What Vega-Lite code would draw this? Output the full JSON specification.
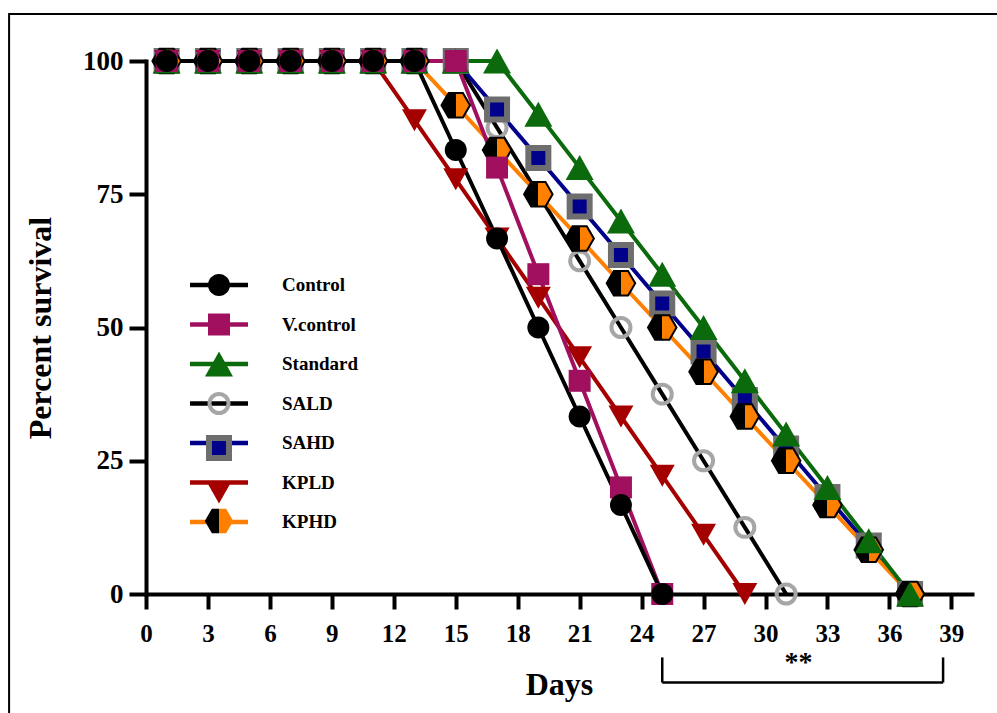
{
"$schema": "https://vega.github.io/schema/vega-lite/v6.json",
"width": 826, "height": 533,
"autosize": {"type": "none"},
"padding": {"left": 146, "top": 61, "right": 25, "bottom": 119},
"background": "white",
"config": {"view": {"stroke": null}, "font": "Liberation Serif"},
"data": {"values": [
{"series":"SALD","day":1,"survival":100},{"series":"SALD","day":3,"survival":100},{"series":"SALD","day":5,"survival":100},{"series":"SALD","day":7,"survival":100},{"series":"SALD","day":9,"survival":100},{"series":"SALD","day":11,"survival":100},{"series":"SALD","day":13,"survival":100},{"series":"SALD","day":15,"survival":100},{"series":"SALD","day":17,"survival":87.5},{"series":"SALD","day":19,"survival":75},{"series":"SALD","day":21,"survival":62.5},{"series":"SALD","day":23,"survival":50},{"series":"SALD","day":25,"survival":37.5},{"series":"SALD","day":27,"survival":25},{"series":"SALD","day":29,"survival":12.5},{"series":"SALD","day":31,"survival":0},
{"series":"SAHD","day":1,"survival":100},{"series":"SAHD","day":3,"survival":100},{"series":"SAHD","day":5,"survival":100},{"series":"SAHD","day":7,"survival":100},{"series":"SAHD","day":9,"survival":100},{"series":"SAHD","day":11,"survival":100},{"series":"SAHD","day":13,"survival":100},{"series":"SAHD","day":15,"survival":100},{"series":"SAHD","day":17,"survival":90.9},{"series":"SAHD","day":19,"survival":81.8},{"series":"SAHD","day":21,"survival":72.7},{"series":"SAHD","day":23,"survival":63.6},{"series":"SAHD","day":25,"survival":54.5},{"series":"SAHD","day":27,"survival":45.5},{"series":"SAHD","day":29,"survival":36.4},{"series":"SAHD","day":31,"survival":27.3},{"series":"SAHD","day":33,"survival":18.2},{"series":"SAHD","day":35,"survival":9.1},{"series":"SAHD","day":37,"survival":0},
{"series":"KPLD","day":1,"survival":100},{"series":"KPLD","day":3,"survival":100},{"series":"KPLD","day":5,"survival":100},{"series":"KPLD","day":7,"survival":100},{"series":"KPLD","day":9,"survival":100},{"series":"KPLD","day":11,"survival":100},{"series":"KPLD","day":13,"survival":88.9},{"series":"KPLD","day":15,"survival":77.8},{"series":"KPLD","day":17,"survival":66.7},{"series":"KPLD","day":19,"survival":55.6},{"series":"KPLD","day":21,"survival":44.4},{"series":"KPLD","day":23,"survival":33.3},{"series":"KPLD","day":25,"survival":22.2},{"series":"KPLD","day":27,"survival":11.1},{"series":"KPLD","day":29,"survival":0},
{"series":"KPHD","day":1,"survival":100},{"series":"KPHD","day":3,"survival":100},{"series":"KPHD","day":5,"survival":100},{"series":"KPHD","day":7,"survival":100},{"series":"KPHD","day":9,"survival":100},{"series":"KPHD","day":11,"survival":100},{"series":"KPHD","day":13,"survival":100},{"series":"KPHD","day":15,"survival":91.7},{"series":"KPHD","day":17,"survival":83.3},{"series":"KPHD","day":19,"survival":75},{"series":"KPHD","day":21,"survival":66.7},{"series":"KPHD","day":23,"survival":58.3},{"series":"KPHD","day":25,"survival":50},{"series":"KPHD","day":27,"survival":41.7},{"series":"KPHD","day":29,"survival":33.3},{"series":"KPHD","day":31,"survival":25},{"series":"KPHD","day":33,"survival":16.7},{"series":"KPHD","day":35,"survival":8.3},{"series":"KPHD","day":37,"survival":0},
{"series":"Standard","day":1,"survival":100},{"series":"Standard","day":3,"survival":100},{"series":"Standard","day":5,"survival":100},{"series":"Standard","day":7,"survival":100},{"series":"Standard","day":9,"survival":100},{"series":"Standard","day":11,"survival":100},{"series":"Standard","day":13,"survival":100},{"series":"Standard","day":15,"survival":100},{"series":"Standard","day":17,"survival":100},{"series":"Standard","day":19,"survival":90},{"series":"Standard","day":21,"survival":80},{"series":"Standard","day":23,"survival":70},{"series":"Standard","day":25,"survival":60},{"series":"Standard","day":27,"survival":50},{"series":"Standard","day":29,"survival":40},{"series":"Standard","day":31,"survival":30},{"series":"Standard","day":33,"survival":20},{"series":"Standard","day":35,"survival":10},{"series":"Standard","day":37,"survival":0},
{"series":"V.control","day":1,"survival":100},{"series":"V.control","day":3,"survival":100},{"series":"V.control","day":5,"survival":100},{"series":"V.control","day":7,"survival":100},{"series":"V.control","day":9,"survival":100},{"series":"V.control","day":11,"survival":100},{"series":"V.control","day":13,"survival":100},{"series":"V.control","day":15,"survival":100},{"series":"V.control","day":17,"survival":80},{"series":"V.control","day":19,"survival":60},{"series":"V.control","day":21,"survival":40},{"series":"V.control","day":23,"survival":20},{"series":"V.control","day":25,"survival":0},
{"series":"Control","day":1,"survival":100},{"series":"Control","day":3,"survival":100},{"series":"Control","day":5,"survival":100},{"series":"Control","day":7,"survival":100},{"series":"Control","day":9,"survival":100},{"series":"Control","day":11,"survival":100},{"series":"Control","day":13,"survival":100},{"series":"Control","day":15,"survival":83.3},{"series":"Control","day":17,"survival":66.7},{"series":"Control","day":19,"survival":50},{"series":"Control","day":21,"survival":33.3},{"series":"Control","day":23,"survival":16.7},{"series":"Control","day":25,"survival":0}
]},
"layer": [
{
"data": {"values": [{}]},
"mark": {"type": "rect", "fill": "transparent", "stroke": "black", "strokeWidth": 2},
"encoding": {
"x": {"datum": -6.63, "type": "quantitative"}, "x2": {"datum": 43},
"y": {"datum": 108.8, "type": "quantitative"}, "y2": {"datum": -25}
}
},
{
"mark": {"type": "line", "strokeWidth": 4},
"encoding": {
"x": {"field": "day", "type": "quantitative",
"scale": {"domain": [0, 40], "nice": false, "zero": false},
"axis": {"values": [0,3,6,9,12,15,18,21,24,27,30,33,36,39], "title": "Days", "grid": false,
"domainColor": "black", "domainWidth": 4, "domainCap": "square", "tickColor": "black", "tickWidth": 4, "tickSize": 15,
"labelFont": "Liberation Serif", "labelFontWeight": "bold", "labelFontSize": 25, "labelColor": "black", "labelPadding": 12,
"labelFlush": false, "labelOverlap": false,
"titleFont": "Liberation Serif", "titleFontWeight": "bold", "titleFontSize": 32, "titleColor": "black", "titlePadding": 23}},
"y": {"field": "survival", "type": "quantitative",
"scale": {"domain": [0, 100], "nice": false},
"axis": {"values": [0,25,50,75,100], "title": "Percent survival", "grid": false,
"domainColor": "black", "domainWidth": 4, "domainCap": "square", "tickColor": "black", "tickWidth": 4, "tickSize": 17,
"labelFont": "Liberation Serif", "labelFontWeight": "bold", "labelFontSize": 27, "labelColor": "black", "labelPadding": 6,
"labelFlush": false, "labelOverlap": false,
"titleFont": "Liberation Serif", "titleFontWeight": "bold", "titleFontSize": 32, "titleColor": "black", "titlePadding": 25}},
"color": {"field": "series", "type": "nominal",
"scale": {"domain": ["Control","V.control","Standard","SALD","SAHD","KPLD","KPHD"],
"range": ["#000000","#A0105E","#0B6A0B","#000000","#00008B","#A50000","#FF8000"]},
"legend": {"title": null, "orient": "none", "legendX": 41.5, "legendY": 205, "padding": 0,
"symbolType": "stroke", "symbolSize": 3364, "symbolStrokeWidth": 4.5, "symbolOpacity": 1,
"labelFont": "Liberation Serif", "labelFontWeight": "bold", "labelFontSize": 19, "labelColor": "black", "labelOffset": 31.5, "labelLimit": 300,
"rowPadding": 1.5, "clipHeight": 38, "zindex": 1}}
}
},
{
"transform": [{"filter": "datum.series === 'SALD' || datum.series === 'SAHD' || datum.series === 'KPLD'"}],
"mark": {"type": "point", "filled": true, "opacity": 1, "size": 900},
"encoding": {
"x": {"field": "day", "type": "quantitative"},
"y": {"field": "survival", "type": "quantitative"},
"shape": {"field": "series", "type": "nominal",
"scale": {"domain": ["Control","V.control","Standard","SALD","SAHD","KPLD"],
"range": [
"M0.733,0A0.733,0.733,0,1,1,-0.733,0A0.733,0.733,0,1,1,0.733,0Z",
"M-0.733,-0.733H0.733V0.733H-0.733Z",
"M0,-0.833L0.933,0.833L-0.933,0.833Z",
"M0.633,0A0.633,0.633,0,1,1,-0.633,0A0.633,0.633,0,1,1,0.633,0Z",
"M-0.667,-0.667H0.667V0.667H-0.667Z",
"M0,0.733L0.833,-0.733L-0.833,-0.733Z"]},
"legend": {"title": null, "orient": "none", "legendX": 55, "legendY": 206, "padding": 0,
"symbolSize": 900, "symbolOpacity": 1, "symbolFillColor": "black", "symbolStrokeColor": "black",
"symbolStrokeWidth": {"expr": "datum.value === 'SAHD' ? 6 : datum.value === 'SALD' ? 4 : 0"},
"labelOpacity": 0, "labelFontSize": 36, "labelExpr": "' '", "labelLimit": 10, "rowPadding": 3.5, "zindex": 2}},
"fill": {"field": "series", "type": "nominal",
"scale": {"domain": ["Control","V.control","Standard","SALD","SAHD","KPLD"],
"range": ["#000000","#A0105E","#0B6A0B","transparent","#00008B","#A50000"]},
"legend": {"title": null, "orient": "none", "legendX": 55, "legendY": 206, "padding": 0,
"symbolSize": 900, "symbolOpacity": 1, "symbolFillColor": "black", "symbolStrokeColor": "black",
"symbolStrokeWidth": {"expr": "datum.value === 'SAHD' ? 6 : datum.value === 'SALD' ? 4 : 0"},
"labelOpacity": 0, "labelFontSize": 36, "labelExpr": "' '", "labelLimit": 10, "rowPadding": 3.5, "zindex": 2}},
"stroke": {"field": "series", "type": "nominal",
"scale": {"domain": ["Control","V.control","Standard","SALD","SAHD","KPLD"],
"range": ["#000000","#A0105E","#0B6A0B","#A6A6A6","#6E6E6E","#A50000"]},
"legend": {"title": null, "orient": "none", "legendX": 55, "legendY": 206, "padding": 0,
"symbolSize": 900, "symbolOpacity": 1, "symbolFillColor": "black", "symbolStrokeColor": "black",
"symbolStrokeWidth": {"expr": "datum.value === 'SAHD' ? 6 : datum.value === 'SALD' ? 4 : 0"},
"labelOpacity": 0, "labelFontSize": 36, "labelExpr": "' '", "labelLimit": 10, "rowPadding": 3.5, "zindex": 2}},
"strokeWidth": {"condition": [{"test": "datum.series === 'SAHD'", "value": 6}, {"test": "datum.series === 'SALD'", "value": 4}], "value": 0}
}
},
{
"transform": [{"filter": "datum.series === 'KPHD'"}],
"mark": {"type": "point", "filled": true, "size": 900, "stroke": "black", "strokeWidth": 2,
"shape": "M-0.95,0L-0.475,-0.82L0.475,-0.82L0.95,0L0.475,0.82L-0.475,0.82Z",
"fill": {"gradient": "linear", "x1": 0, "y1": 0, "x2": 1, "y2": 0, "stops": [{"offset": 0, "color": "#000000"}, {"offset": 0.5, "color": "#000000"}, {"offset": 0.5, "color": "#FF8000"}, {"offset": 1, "color": "#FF8000"}]}},
"encoding": {
"x": {"field": "day", "type": "quantitative"},
"y": {"field": "survival", "type": "quantitative"},
"opacity": {"field": "series", "type": "nominal", "scale": {"range": [1, 1]},
"legend": {"title": null, "orient": "none", "legendX": 55, "legendY": 442, "padding": 0,
"symbolSize": 900, "symbolOpacity": 1, "symbolStrokeWidth": 2, "symbolStrokeColor": "black",
"labelOpacity": 0, "labelFontSize": 36, "labelExpr": "' '", "labelLimit": 10, "zindex": 3}}
}
},
{
"transform": [{"filter": "datum.series === 'Standard' || datum.series === 'V.control' || datum.series === 'Control'"}],
"mark": {"type": "point", "filled": true, "opacity": 1, "size": 900},
"encoding": {
"x": {"field": "day", "type": "quantitative"},
"y": {"field": "survival", "type": "quantitative"},
"shape": {"field": "series", "type": "nominal",
"scale": {"domain": ["Control","V.control","Standard","SALD","SAHD","KPLD"],
"range": [
"M0.733,0A0.733,0.733,0,1,1,-0.733,0A0.733,0.733,0,1,1,0.733,0Z",
"M-0.733,-0.733H0.733V0.733H-0.733Z",
"M0,-0.833L0.933,0.833L-0.933,0.833Z",
"M0.633,0A0.633,0.633,0,1,1,-0.633,0A0.633,0.633,0,1,1,0.633,0Z",
"M-0.667,-0.667H0.667V0.667H-0.667Z",
"M0,0.733L0.833,-0.733L-0.833,-0.733Z"]},
"legend": {"title": null, "orient": "none", "legendX": 55, "legendY": 206, "padding": 0,
"symbolSize": 900, "symbolOpacity": 1, "symbolFillColor": "black", "symbolStrokeColor": "black",
"symbolStrokeWidth": {"expr": "datum.value === 'SAHD' ? 6 : datum.value === 'SALD' ? 4 : 0"},
"labelOpacity": 0, "labelFontSize": 36, "labelExpr": "' '", "labelLimit": 10, "rowPadding": 3.5, "zindex": 2}},
"fill": {"field": "series", "type": "nominal",
"scale": {"domain": ["Control","V.control","Standard","SALD","SAHD","KPLD"],
"range": ["#000000","#A0105E","#0B6A0B","transparent","#00008B","#A50000"]},
"legend": {"title": null, "orient": "none", "legendX": 55, "legendY": 206, "padding": 0,
"symbolSize": 900, "symbolOpacity": 1, "symbolFillColor": "black", "symbolStrokeColor": "black",
"symbolStrokeWidth": {"expr": "datum.value === 'SAHD' ? 6 : datum.value === 'SALD' ? 4 : 0"},
"labelOpacity": 0, "labelFontSize": 36, "labelExpr": "' '", "labelLimit": 10, "rowPadding": 3.5, "zindex": 2}},
"stroke": {"field": "series", "type": "nominal",
"scale": {"domain": ["Control","V.control","Standard","SALD","SAHD","KPLD"],
"range": ["#000000","#A0105E","#0B6A0B","#A6A6A6","#6E6E6E","#A50000"]},
"legend": {"title": null, "orient": "none", "legendX": 55, "legendY": 206, "padding": 0,
"symbolSize": 900, "symbolOpacity": 1, "symbolFillColor": "black", "symbolStrokeColor": "black",
"symbolStrokeWidth": {"expr": "datum.value === 'SAHD' ? 6 : datum.value === 'SALD' ? 4 : 0"},
"labelOpacity": 0, "labelFontSize": 36, "labelExpr": "' '", "labelLimit": 10, "rowPadding": 3.5, "zindex": 2}},
"strokeWidth": {"condition": [{"test": "datum.series === 'SAHD'", "value": 6}, {"test": "datum.series === 'SALD'", "value": 4}], "value": 0}
}
},
{
"data": {"values": [{}]},
"mark": {"type": "rule", "color": "black", "strokeWidth": 2.5},
"encoding": {"x": {"datum": 25, "type": "quantitative"}, "x2": {"datum": 38.6}, "y": {"datum": -16.6, "type": "quantitative"}}
},
{
"data": {"values": [{}]},
"mark": {"type": "rule", "color": "black", "strokeWidth": 2.5},
"encoding": {"x": {"datum": 25, "type": "quantitative"}, "y": {"datum": -11.9, "type": "quantitative"}, "y2": {"datum": -16.6}}
},
{
"data": {"values": [{}]},
"mark": {"type": "rule", "color": "black", "strokeWidth": 2.5},
"encoding": {"x": {"datum": 38.6, "type": "quantitative"}, "y": {"datum": -11.9, "type": "quantitative"}, "y2": {"datum": -16.6}}
},
{
"data": {"values": [{}]},
"mark": {"type": "text", "font": "Liberation Serif", "fontWeight": "bold", "fontSize": 28, "baseline": "alphabetic", "align": "center", "color": "black"},
"encoding": {"x": {"datum": 31.6, "type": "quantitative"}, "y": {"datum": -14.4, "type": "quantitative"}, "text": {"value": "**"}}
}
]
}
